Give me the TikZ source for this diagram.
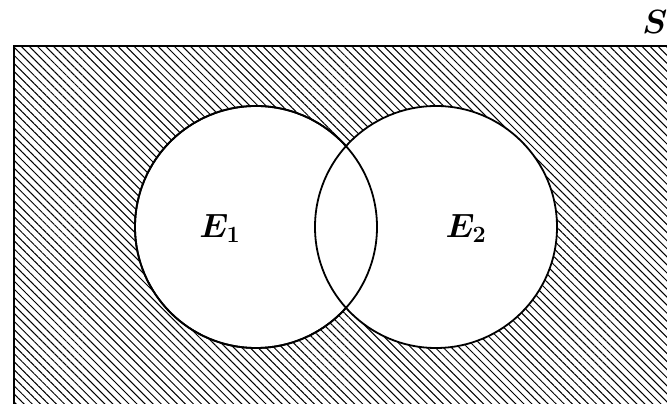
\documentclass[tikz,border=0pt]{standalone}
\usepackage{amsmath}
\usepackage{bm}
\usetikzlibrary{patterns.meta}

\begin{document}
\begin{tikzpicture}[
                x=1pt, y=1pt,
                space/.style={draw=black, line width=2.4pt,
                              pattern={Lines[angle=-45, distance=5.7pt, line width=1pt]}},
                event/.style={circle, draw=black, fill=white, line width=1.8pt,
                              minimum size=242pt, inner sep=0pt},
                lbl/.style={font=\fontsize{24}{28}\selectfont, inner sep=0pt,
                            scale=1.35, transform shape}
            ]
                \useasboundingbox (0,0) rectangle (667,404);
                \clip (0,0) rectangle (667,404);
                \draw[space] (14,358) rectangle (690,-20);

                \node[event] (e1) at (256,177) {};
                \node[event] (e2) at (436,177) {};
                % both outlines on top so the overlap shows
                \draw[line width=1.8pt] (256,177) circle[radius=121pt];

                \node[lbl] (l1) at (220,176) {$\bm{E}_{\mathbf{1}}$};
                \node[lbl] (l2) at (466,176) {$\bm{E}_{\mathbf{2}}$};
                \node[lbl] (s) at (655,382) {$\bm{S}$};
            \end{tikzpicture}
\end{document}
